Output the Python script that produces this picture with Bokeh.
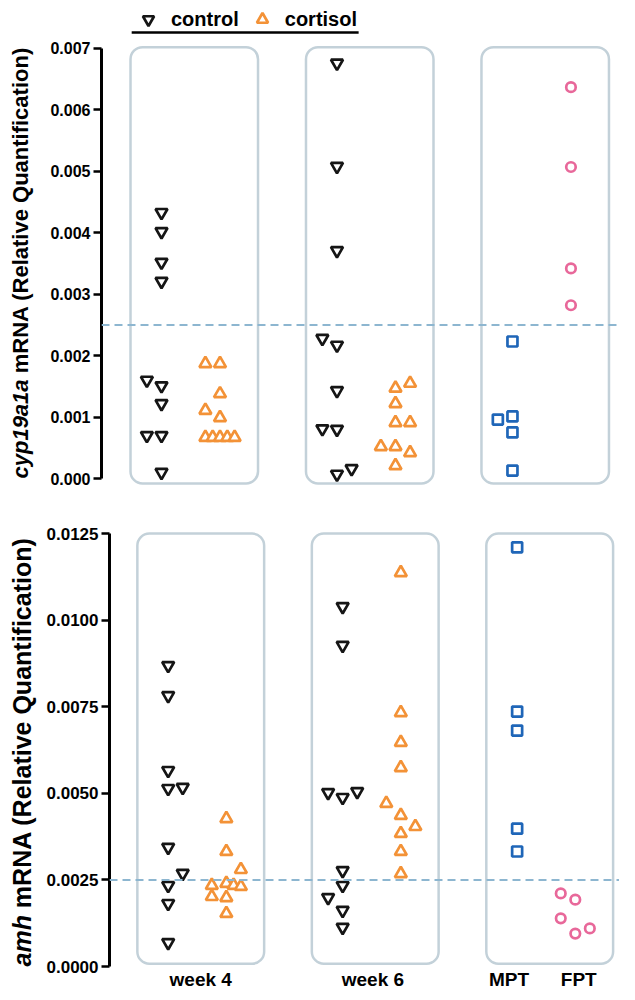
from math import pi
from bokeh.plotting import figure
from bokeh.models import (Range1d, FixedTicker, NumeralTickFormatter, Span,
                          Legend, LegendItem)
from bokeh.core.properties import value
from bokeh.layouts import column, row
from bokeh.embed import file_html
from bokeh.resources import INLINE

# ---------------- data ----------------
group_labels = ["week 4", "week 6", "MPT", "FPT"]
treatments = ["control", "cortisol"]

# cyp19a1a mRNA (relative quantification)
cyp_w4_control = [0.00433, 0.00402, 0.00352, 0.00321, 0.00160, 0.00151, 0.00122, 0.00070, 0.00070, 0.00010]
cyp_w4_cortisol = [0.00187, 0.00187, 0.00138, 0.00111, 0.00099, 0.00067, 0.00067, 0.00067, 0.00067, 0.00067]
cyp_w6_control = [0.00676, 0.00508, 0.00371, 0.00228, 0.00217, 0.00143, 0.00081, 0.00080, 0.00016, 0.00007]
cyp_w6_cortisol = [0.00155, 0.00147, 0.00122, 0.00091, 0.00091, 0.00052, 0.00052, 0.00042, 0.00021]
cyp_mpt = [0.00223, 0.00101, 0.00096, 0.00075, 0.00013]
cyp_fpt = [0.00637, 0.00507, 0.00342, 0.00282]

# amh mRNA (relative quantification)
amh_w4_control = [0.00869, 0.00782, 0.00566, 0.00514, 0.00517, 0.00344, 0.00269, 0.00234, 0.00182, 0.00069]
amh_w4_cortisol = [0.00427, 0.00332, 0.00280, 0.00234, 0.00240, 0.00234, 0.00231, 0.00202, 0.00199, 0.00153]
amh_w6_control = [0.01039, 0.00927, 0.00502, 0.00488, 0.00505, 0.00277, 0.00234, 0.00199, 0.00162, 0.00113]
amh_w6_cortisol = [0.01137, 0.00733, 0.00647, 0.00574, 0.00471, 0.00436, 0.00404, 0.00384, 0.00332, 0.00268]
amh_mpt = [0.01210, 0.00736, 0.00681, 0.00398, 0.00332]
amh_fpt = [0.00211, 0.00193, 0.00139, 0.00110, 0.00095]

threshold = 0.0025
cyp_ticks = [0.000, 0.001, 0.002, 0.003, 0.004, 0.005, 0.006, 0.007]
amh_ticks = [0.0000, 0.0025, 0.0050, 0.0075, 0.0100, 0.0125]
cyp_label = ("cyp19a1a", "mRNA (Relative Quantification)")
amh_label = ("amh", "mRNA (Relative Quantification)")

# ---------------- layout (horizontal swarm slots) ----------------
cyp_slots = {
    "w4c": [0, 0, 0, 0, -2, 0, 0, -2, 0, 0],
    "w4t": [-2, 0, 0, -2, 0, -2, -1, 0, 1, 2],
    "w6c": [0, 0, 0, -2, 0, 0, -2, 0, 2, 0],
    "w6t": [2, 0, 0, 0, 2, -2, 0, 2, 0],
    "mpt": [0, 0, -2, 0, 0],
    "fpt": [0, 0, 0, 0],
}
amh_slots = {
    "w4c": [0, 0, 0, 0, 2, 0, 2, 0, 0, 0],
    "w4t": [0, 0, 2, -2, 0, 1, 2, -2, 0, 0],
    "w6c": [0, 0, -2, 0, 2, 0, 0, -2, 0, 0],
    "w6t": [0, 0, 0, 0, -2, 0, 2, 0, 0, 0],
    "mpt": [0, 0, 0, 0, 0],
    "fpt": [-2, 0, -2, 2, 0],
}
SLOT = 0.125
COL = {"w4c": 0, "w4t": 1, "w6c": 3, "w6t": 4, "mpt": 6, "fpt": 7}
BOX_START = [0, 3, 6]

FONT = "Liberation Sans"
C_CTRL = "#151515"
C_CORT = "#f39237"
C_MPT = "#1f66b8"
C_FPT = "#e8689a"
C_BOX = "#c3d1d9"
C_DASH = "#8db6d0"

STYLE = {
    "w4c": dict(marker="inverted_triangle", line_color=C_CTRL, size=12),
    "w4t": dict(marker="triangle", line_color=C_CORT, size=12),
    "w6c": dict(marker="inverted_triangle", line_color=C_CTRL, size=12),
    "w6t": dict(marker="triangle", line_color=C_CORT, size=12),
    "mpt": dict(marker="square", line_color=C_MPT, size=10),
    "fpt": dict(marker="circle", line_color=C_FPT, size=9.5),
}

LABEL_W = 43
TOTAL_W = 619


def clean(p):
    p.outline_line_color = None
    p.xgrid.visible = False
    p.ygrid.visible = False
    p.background_fill_color = "white"
    p.border_fill_color = "white"


def make_panel(series, slots, ticks, fmt, y_range, x_range, height, borders,
               tick_font, box_lo, box_hi):
    bl, bt, bb = borders
    p = figure(width=TOTAL_W - LABEL_W, height=height, x_range=x_range, y_range=y_range,
               output_backend="svg", toolbar_location=None,
               min_border_left=bl, min_border_right=0,
               min_border_top=bt, min_border_bottom=bb)
    clean(p)

    # rounded panels
    p.quad(left=[b - 0.53 for b in BOX_START], right=[b + 1.65 for b in BOX_START],
           bottom=[box_lo] * 3, top=[box_hi] * 3, border_radius=12,
           fill_color=None, line_color=C_BOX, line_width=2.5)

    p.add_layout(Span(location=threshold, dimension="width", line_color=C_DASH,
                      line_dash="8 5", line_width=2))

    rends = {}
    for key, vals in series.items():
        xs = [COL[key] + s * SLOT for s in slots[key]]
        st = STYLE[key]
        rends[key] = p.scatter(x=xs, y=vals, marker=st["marker"], size=st["size"],
                               line_color=st["line_color"], fill_color="white",
                               line_width=2.7)

    ax = p.yaxis[0]
    ax.ticker = FixedTicker(ticks=ticks)
    ax.formatter = NumeralTickFormatter(format=fmt)
    ax.bounds = (ticks[0], ticks[-1])
    ax.axis_line_width = 3
    ax.axis_line_color = "black"
    ax.major_tick_line_width = 2.5
    ax.major_tick_line_color = "black"
    ax.major_tick_out = 8
    ax.major_tick_in = 0
    ax.minor_tick_line_color = None
    ax.major_label_text_font = FONT
    ax.major_label_text_font_style = "bold"
    ax.major_label_text_font_size = tick_font
    ax.major_label_text_color = "black"
    ax.major_label_standoff = 3
    return p, rends


def make_label_fig(y_range, height, borders, parts, font_px, px_per_unit, xc):
    _, bt, bb = borders
    f = figure(width=LABEL_W, height=height, x_range=Range1d(0, LABEL_W), y_range=y_range,
               output_backend="svg", toolbar_location=None,
               x_axis_location=None, y_axis_location=None,
               min_border_left=0, min_border_right=0,
               min_border_top=bt, min_border_bottom=bb)
    clean(f)
    italic, rest = parts
    # width of italic part plus a space (Liberation Sans Bold Italic metrics)
    widths = {"c": 556, "y": 556, "p": 611, "1": 556, "9": 556, "a": 556, "m": 889, "h": 611}
    w_px = (sum(widths[ch] for ch in italic) + 278) / 1000 * font_px
    f.text(x=[xc], y=[0.0], text=[italic], angle=pi / 2,
           text_align="left", text_baseline="middle", text_font=value(FONT),
           text_font_style="bold italic", text_font_size=f"{font_px}px", text_color="black")
    f.text(x=[xc], y=[w_px / px_per_unit], text=[rest], angle=pi / 2,
           text_align="left", text_baseline="middle", text_font=value(FONT),
           text_font_style="bold", text_font_size=f"{font_px}px", text_color="black")
    return f


# ---------------- top panel: cyp19a1a ----------------
cyp_series = {"w4c": cyp_w4_control, "w4t": cyp_w4_cortisol, "w6c": cyp_w6_control,
              "w6t": cyp_w6_cortisol, "mpt": cyp_mpt, "fpt": cyp_fpt}
top_y = Range1d(-0.000195, 0.00765)
top_borders = (58, 8, 10)
top, r_top = make_panel(cyp_series, cyp_slots, cyp_ticks, "0.000",
                        top_y, Range1d(-1.026, 7.83),
                        500, top_borders, "16px", -0.00008, 0.00702)
top.xaxis.visible = False

legend = Legend(items=[LegendItem(label=treatments[0], renderers=[r_top["w4c"]]),
                       LegendItem(label=treatments[1], renderers=[r_top["w4t"]])],
                location=(33, 457), orientation="horizontal",
                glyph_width=28, glyph_height=28, label_height=28,
                label_standoff=9, spacing=9, padding=0, margin=0,
                border_line_color=None, background_fill_alpha=0,
                label_text_font=FONT, label_text_font_style="bold",
                label_text_font_size="20px", label_text_color="black")
top.add_layout(legend)
top.segment(x0=[-0.51], x1=[3.37], y0=[0.00726], y1=[0.00726],
            line_color="black", line_width=2.5)

top_lab = make_label_fig(top_y, 500, top_borders, cyp_label, 22, 61430.0, 20)

# ---------------- bottom panel: amh ----------------
amh_series = {"w4c": amh_w4_control, "w4t": amh_w4_cortisol, "w6c": amh_w6_control,
              "w6t": amh_w6_cortisol, "mpt": amh_mpt, "fpt": amh_fpt}
bot_y = Range1d(-0.0000577, 0.012818)
bot_borders = (63, 22, 24)
bot, r_bot = make_panel(amh_series, amh_slots, amh_ticks, "0.0000",
                        bot_y, Range1d(-1.009, 7.76),
                        492, bot_borders, "17px", 0.00008, 0.0125)

label_pos = [0.56, 3.52, 5.86, 7.06]
xa = bot.xaxis[0]
xa.ticker = FixedTicker(ticks=label_pos)
xa.major_label_overrides = {pos: lab for pos, lab in zip(label_pos, group_labels)}
xa.axis_line_color = None
xa.major_tick_line_color = None
xa.minor_tick_line_color = None
xa.major_tick_out = 0
xa.major_tick_in = 0
xa.major_label_standoff = 0
xa.major_label_text_font = FONT
xa.major_label_text_font_style = "bold"
xa.major_label_text_font_size = "19px"
xa.major_label_text_color = "black"

bot_lab = make_label_fig(bot_y, 492, bot_borders, amh_label, 25, 34640.0, 21)

layout = column(row(top_lab, top), row(bot_lab, bot))
open("out.html", "w").write(file_html(layout, INLINE))
